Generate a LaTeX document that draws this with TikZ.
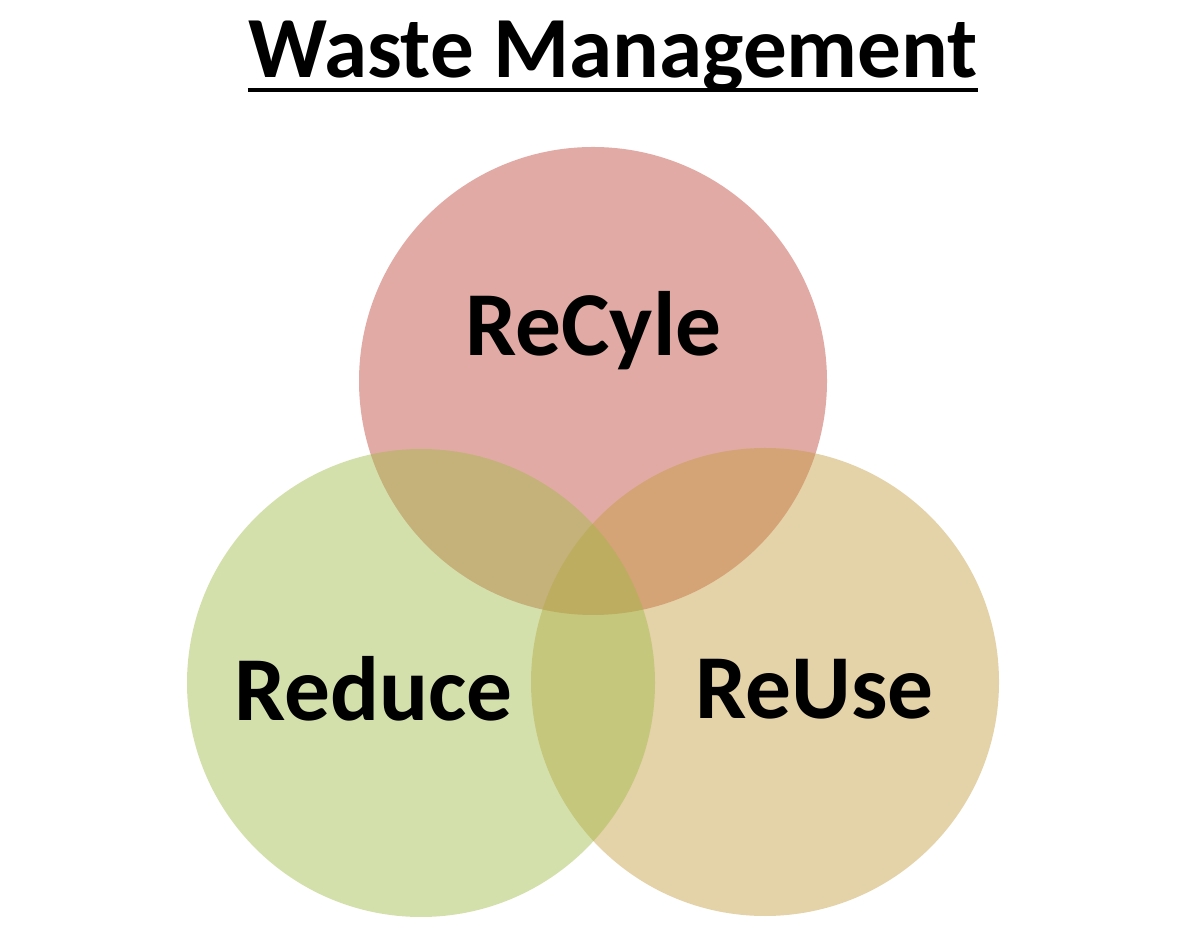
\documentclass[tikz,border=0pt]{standalone}
\usepackage{fontspec}
\setmainfont{Carlito}
\usepackage{xcolor}
\usetikzlibrary{positioning, calc}

\definecolor{recyclefill}{RGB}{191,67,56}
\definecolor{reducefill}{RGB}{160,187,71}
\definecolor{reusefill}{RGB}{196,155,62}

\begin{document}
\begin{tikzpicture}[
    venn/.style={circle, minimum size=11.7cm, inner sep=0pt, fill opacity=0.45, text opacity=1},
    label/.style={font=\fontsize{65}{68}\selectfont\bfseries, text=black, inner sep=0pt},
    heading/.style={font=\fontsize{62}{66}\selectfont\bfseries, inner sep=0pt, anchor=base}
]
\useasboundingbox (0,0) rectangle (30,23.125);

% Title
\node[heading] (title) at (15.325,21.175) {Waste Management};
\draw[line width=3pt] ([yshift=-0.3cm]title.base west) -- ([yshift=-0.3cm]title.base east);

% Circles
\node[venn, fill=recyclefill] (recycle) at (14.825,13.6) {};
\node[venn, fill=reusefill] (reuse) at (19.125,6.075) {};
\node[venn, fill=reducefill] (reduce) at (10.525,6.05) {};

% Labels
\node[label] (recycletext) at (14.84,14.85) {ReCyle};
\node[label] (reducetext) at (9.34,5.9) {Reduce};
\node[label] (reusetext) at (20.36,5.9) {ReUse};

\end{tikzpicture}
\end{document}
